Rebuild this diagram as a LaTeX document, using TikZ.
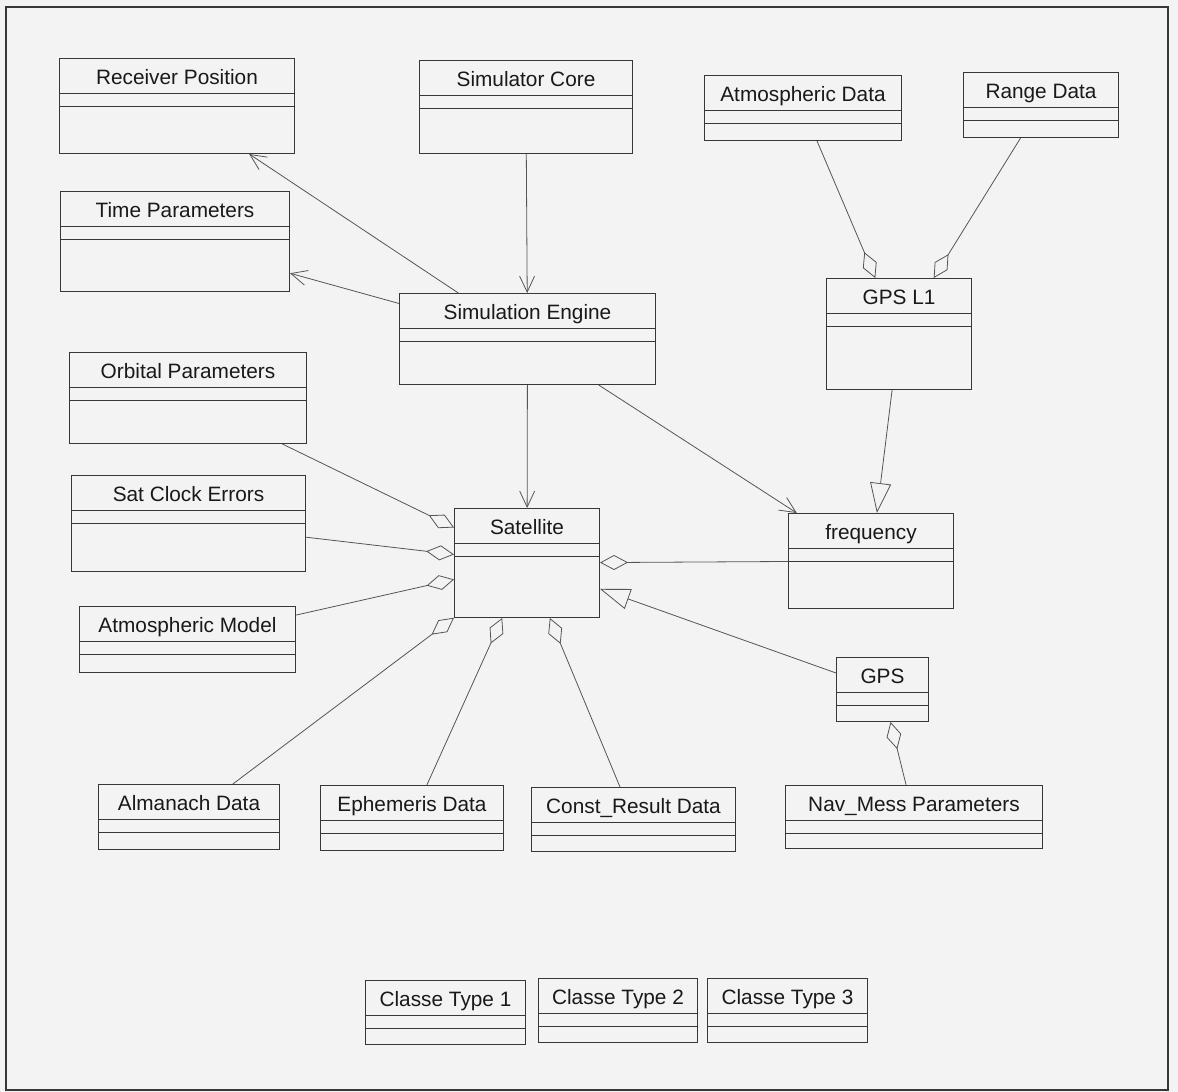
\documentclass[tikz,border=0pt]{standalone}
\usepackage{fontspec}
\setmainfont{Liberation Sans}
\usetikzlibrary{arrows.meta,calc}
\definecolor{paper}{RGB}{243,243,243}
\definecolor{ink}{RGB}{55,55,55}
\definecolor{wire}{RGB}{85,85,85}

% class box: name, top-left corner, width, height (px), title
\newcommand{\umlclass}[5]{%
  \node[cls, minimum width=#3*0.5pt, minimum height=#4*0.5pt] (#1) at #2 {};
  \node[ttl] at ($(#1.north)+(0,26)$) {#5};
  \draw[cmp] ($(#1.north west)+(0,35)$) -- ($(#1.north east)+(0,35)$);
  \draw[cmp] ($(#1.north west)+(0,48)$) -- ($(#1.north east)+(0,48)$);
}

\begin{document}
\begin{tikzpicture}[
  x=0.5pt, y=-0.5pt,
  cls/.style={draw=ink, line width=0.5pt, anchor=north west, inner sep=0pt},
  ttl/.style={anchor=base, inner sep=0pt, text=black!90,
              font=\fontsize{10.4}{12}\selectfont},
  cmp/.style={draw=ink, line width=0.5pt},
  nav/.style={draw=wire, line width=0.4pt, -{Straight Barb[length=8pt, width=7.5pt]}},
  agg/.style={draw=wire, line width=0.4pt, -{Diamond[open, length=14pt, width=7.5pt]}},
  gen/.style={draw=wire, line width=0.4pt, -{Triangle[open, length=15pt, width=10.5pt]}}
]
  \useasboundingbox[fill=paper] (0,0) rectangle (1178,1092);
  \draw[ink, line width=0.7pt] (6,7) rectangle (1168,1090);

  % top row
  \umlclass{recpos}{(59,58)}{235}{95}{Receiver Position}
  \umlclass{simcore}{(419,60)}{213}{93}{Simulator Core}
  \umlclass{atmdata}{(704,75)}{197}{65}{Atmospheric Data}
  \umlclass{range}{(963,72)}{155}{65}{Range Data}
  \umlclass{timepar}{(60,191)}{229}{100}{Time Parameters}
  \umlclass{simeng}{(399,293)}{256}{91}{Simulation Engine}
  \umlclass{gpsl1}{(826,278)}{145}{111}{GPS L1}

  % middle
  \umlclass{orbital}{(69,352)}{237}{91}{Orbital Parameters}
  \umlclass{satclock}{(71,475)}{234}{96}{Sat Clock Errors}
  \umlclass{atmmodel}{(79,606)}{216}{66}{Atmospheric Model}
  \umlclass{sat}{(454,508)}{145}{109}{Satellite}
  \umlclass{freq}{(788,513)}{165}{95}{frequency}
  \umlclass{gps}{(836,657)}{92}{64}{GPS}

  % bottom row
  \umlclass{almanach}{(98,784)}{181}{65}{Almanach Data}
  \umlclass{ephem}{(320,785)}{183}{65}{Ephemeris Data}
  \umlclass{constres}{(531,787)}{204}{64}{Const\_Result Data}
  \umlclass{navmess}{(785,785)}{257}{63}{Nav\_Mess Parameters}

  % legend
  \umlclass{ctone}{(365,980)}{160}{64}{Classe Type 1}
  \umlclass{cttwo}{(538,978)}{159}{64}{Classe Type 2}
  \umlclass{ctthree}{(707,978)}{160}{64}{Classe Type 3}

  % associations
  \draw[nav] (simeng) -- (recpos);
  \draw[nav] (simeng) -- (timepar);
  \draw[nav] (simcore) -- (simeng);
  \draw[nav] (simeng) -- (sat);
  \draw[nav] (simeng) -- (freq);

  % aggregations
  \draw[agg] (atmdata) -- (gpsl1);
  \draw[agg] (range) -- (gpsl1);
  \draw[agg] (orbital) -- (sat);
  \draw[agg] (satclock) -- (sat);
  \draw[agg] (atmmodel) -- (sat);
  \draw[agg] (almanach) -- (sat);
  \draw[agg] (ephem) -- (sat);
  \draw[agg] (constres) -- (sat);
  \draw[agg] (freq) -- (sat);
  \draw[agg] (navmess) -- (gps);

  % generalisations
  \draw[gen] (gpsl1) -- (freq);
  \draw[gen] (gps) -- (sat);
\end{tikzpicture}
\end{document}
